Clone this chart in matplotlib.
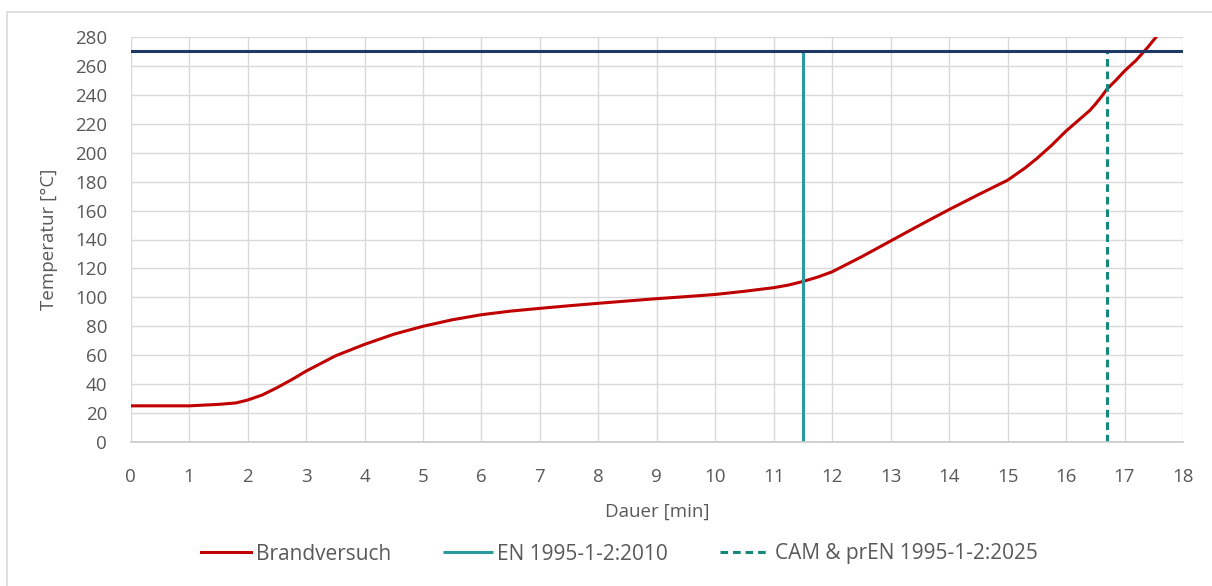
import matplotlib
matplotlib.use("Agg")
import matplotlib.pyplot as plt
from matplotlib.patches import Rectangle

# Brandversuch: temperature over time
dauer = [0, 0.5, 1, 1.5, 1.8, 2, 2.25, 2.5, 2.75, 3, 3.5, 4, 4.5, 5, 5.5, 6,
         6.5, 7, 7.5, 8, 8.5, 9, 9.5, 10, 10.5, 11, 11.25, 11.5, 11.75, 12,
         12.5, 13, 13.5, 14, 14.5, 15, 15.3, 15.5, 15.75, 16, 16.2, 16.4,
         16.5, 16.6, 16.7, 16.85, 17, 17.2, 17.4, 17.6]
temperatur = [25, 25, 25, 26, 27, 29, 32.5, 37.5, 43, 49, 59.5, 67.5, 74.5,
              80, 84.5, 88, 90.5, 92.4, 94.2, 95.9, 97.5, 99.1, 100.5, 102,
              104.2, 106.7, 108.5, 111, 114, 117.7, 128, 139, 150, 160.7, 171,
              181, 189.5, 196, 205, 215, 222, 229, 233.5, 238.5, 244, 250,
              256.5, 264, 273, 283]

grenzwert = 270          # horizontal limit line
t_en2010 = 11.5          # EN 1995-1-2:2010
t_cam2025 = 16.7         # CAM & prEN 1995-1-2:2025

x_ticks = list(range(0, 19))
y_ticks = list(range(0, 281, 20))

grey_text = "#595959"
grid_col = "#d9d9d9"

plt.rcParams["font.family"] = ["Open Sans", "DejaVu Sans"]

fig = plt.figure(figsize=(12.12, 5.86), dpi=100)
ax = fig.add_axes([130.7 / 1212, 1 - 442 / 586, (1183 - 130.7) / 1212, (442 - 37) / 586])

# outer chart border (cut off at right and bottom like in the original)
fig.patches.append(Rectangle((7 / 1212, -0.1), 1.2, 1.1 - 11.5 / 586,
                             transform=fig.transFigure, fill=False,
                             edgecolor=grid_col, linewidth=1.2))

ax.plot(dauer, temperatur, color="#C00000", lw=2.2, label="Brandversuch")
ax.vlines(t_en2010, 0, grenzwert, color="#2A9A9E", lw=2.2, label="EN 1995-1-2:2010")
ax.vlines(t_cam2025, 0, grenzwert, color="#14897A", lw=2.2, linestyles=(0, (2.5, 1.6)),
          label="CAM & prEN 1995-1-2:2025")
ax.axhline(grenzwert, color="#1F3864", lw=2.2)

ax.set_xlim(0, 18)
ax.set_ylim(0, 280)
ax.set_xticks(x_ticks)
ax.set_yticks(y_ticks)
ax.grid(True, color=grid_col, lw=1)
ax.set_axisbelow(True)
for s in ["top", "right", "left"]:
    ax.spines[s].set_visible(False)
ax.spines["bottom"].set_color("#c8c8c8")
ax.spines["bottom"].set_linewidth(1.2)
ax.tick_params(axis="both", length=0, labelsize=13.5, labelcolor=grey_text)
ax.tick_params(axis="y", pad=17)
ax.tick_params(axis="x", pad=19)

ax.set_xlabel("Dauer [min]", fontsize=13.5, color=grey_text, labelpad=12)
ax.set_ylabel("Temperatur [°C]", fontsize=13.5, color=grey_text, labelpad=12)

fig.legend(loc="center", bbox_to_anchor=(0.511, 1 - 554 / 586), ncol=3,
           frameon=False, fontsize=15, labelcolor=grey_text,
           handlelength=2.4, handletextpad=0.22, columnspacing=2.5)

fig.savefig("out.png", dpi=100, facecolor="white")
